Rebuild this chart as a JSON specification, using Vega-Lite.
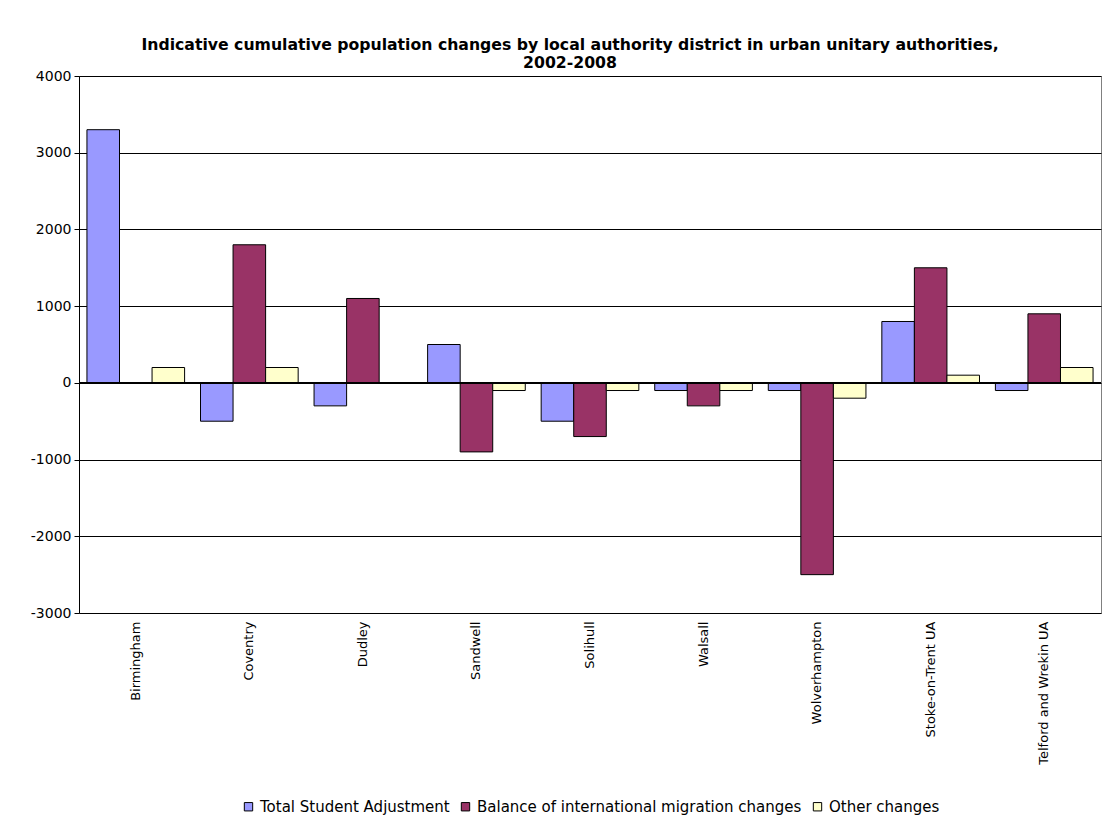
{
  "$schema": "https://vega.github.io/schema/vega-lite/v6.json",
  "autosize": {"type": "none"},
  "width": 1022,
  "height": 537,
  "padding": {"left": 79, "top": 76, "right": 4, "bottom": 205},
  "background": "white",
  "title": {
    "text": ["Indicative cumulative population changes by local authority district in urban unitary authorities,", "2002-2008"],
    "font": "DejaVu Sans",
    "fontSize": 15.7,
    "fontWeight": "bold",
    "color": "black",
    "anchor": "middle",
    "dx": -20,
    "offset": -3,
    "lineHeight": 18
  },
  "data": {
    "values": [
      {"district": "Birmingham", "series": "Total Student Adjustment", "value": 3300},
      {"district": "Birmingham", "series": "Balance of international migration changes", "value": 0},
      {"district": "Birmingham", "series": "Other changes", "value": 200},
      {"district": "Coventry", "series": "Total Student Adjustment", "value": -500},
      {"district": "Coventry", "series": "Balance of international migration changes", "value": 1800},
      {"district": "Coventry", "series": "Other changes", "value": 200},
      {"district": "Dudley", "series": "Total Student Adjustment", "value": -300},
      {"district": "Dudley", "series": "Balance of international migration changes", "value": 1100},
      {"district": "Dudley", "series": "Other changes", "value": 0},
      {"district": "Sandwell", "series": "Total Student Adjustment", "value": 500},
      {"district": "Sandwell", "series": "Balance of international migration changes", "value": -900},
      {"district": "Sandwell", "series": "Other changes", "value": -100},
      {"district": "Solihull", "series": "Total Student Adjustment", "value": -500},
      {"district": "Solihull", "series": "Balance of international migration changes", "value": -700},
      {"district": "Solihull", "series": "Other changes", "value": -100},
      {"district": "Walsall", "series": "Total Student Adjustment", "value": -100},
      {"district": "Walsall", "series": "Balance of international migration changes", "value": -300},
      {"district": "Walsall", "series": "Other changes", "value": -100},
      {"district": "Wolverhampton", "series": "Total Student Adjustment", "value": -100},
      {"district": "Wolverhampton", "series": "Balance of international migration changes", "value": -2500},
      {"district": "Wolverhampton", "series": "Other changes", "value": -200},
      {"district": "Stoke-on-Trent UA", "series": "Total Student Adjustment", "value": 800},
      {"district": "Stoke-on-Trent UA", "series": "Balance of international migration changes", "value": 1500},
      {"district": "Stoke-on-Trent UA", "series": "Other changes", "value": 100},
      {"district": "Telford and Wrekin UA", "series": "Total Student Adjustment", "value": -100},
      {"district": "Telford and Wrekin UA", "series": "Balance of international migration changes", "value": 900},
      {"district": "Telford and Wrekin UA", "series": "Other changes", "value": 200}
    ]
  },
  "layer": [
    {
      "mark": {"type": "bar", "stroke": "black", "strokeWidth": 1, "opacity": 1},
      "encoding": {
        "x": {
          "field": "district",
          "type": "nominal",
          "sort": null,
          "scale": {"paddingInner": 0.14, "paddingOuter": 0.07},
          "axis": {
            "title": null,
            "labelAngle": -90,
            "labelFont": "DejaVu Sans",
            "labelFontSize": 13,
            "labelColor": "black",
            "labelPadding": 8,
            "ticks": false,
            "domain": false
          }
        },
        "xOffset": {
          "field": "series",
          "type": "nominal",
          "sort": ["Total Student Adjustment", "Balance of international migration changes", "Other changes"]
        },
        "y": {
          "field": "value",
          "type": "quantitative",
          "scale": {"domain": [-3000, 4000], "nice": false, "zero": false},
          "axis": {
            "title": null,
            "values": [-3000, -2000, -1000, 0, 1000, 2000, 3000, 4000],
            "labelExpr": "toString(datum.value)",
            "labelFont": "DejaVu Sans",
            "labelFontSize": 14,
            "labelColor": "black",
            "labelPadding": 3,
            "tickSize": 5,
            "tickColor": "black",
            "domainColor": "black",
            "gridColor": "black",
            "gridOpacity": 1,
            "grid": true
          }
        },
        "color": {
          "field": "series",
          "type": "nominal",
          "sort": ["Total Student Adjustment", "Balance of international migration changes", "Other changes"],
          "scale": {
            "domain": ["Total Student Adjustment", "Balance of international migration changes", "Other changes"],
            "range": ["#9999FF", "#993366", "#FFFFCC"]
          },
          "legend": {
            "title": null,
            "orient": "none",
            "direction": "horizontal",
            "legendX": 162,
            "legendY": 723,
            "symbolType": "square",
            "symbolSize": 70,
            "symbolStrokeColor": "black",
            "symbolStrokeWidth": 1,
            "symbolOpacity": 1,
            "labelFont": "DejaVu Sans",
            "labelFontSize": 15,
            "labelColor": "black",
            "labelOffset": 4,
            "columnPadding": 8,
            "labelLimit": 0
          }
        }
      }
    },
    {
      "mark": {"type": "rule", "color": "black", "strokeWidth": 1},
      "encoding": {"y": {"datum": 0}}
    }
  ],
  "config": {
    "view": {"stroke": "#808080", "strokeWidth": 1},
    "axis": {"gridWidth": 1, "domainWidth": 1}
  }
}
